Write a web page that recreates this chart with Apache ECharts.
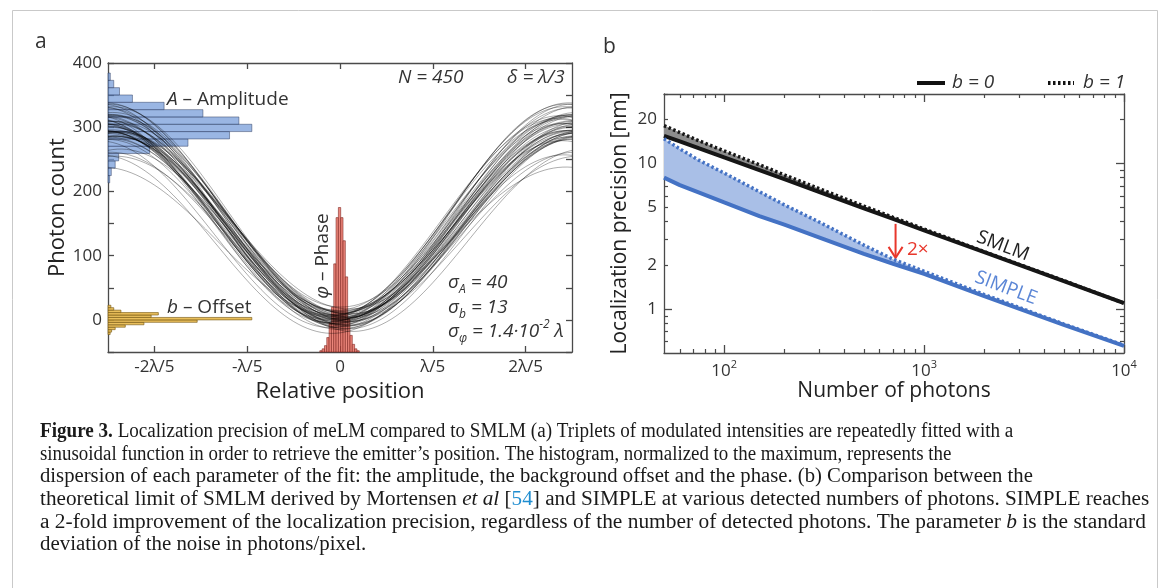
<!DOCTYPE html>
<html>
<head>
<meta charset="utf-8">
<title>Figure 3</title>
<script src="https://cdn.jsdelivr.net/npm/echarts@6.0.0/dist/echarts.min.js"></script>
<style>
  html, body { margin: 0; padding: 0; background: #fff; }
  #chart { width: 1170px; height: 588px; }
</style>
</head>
<body>
<div id="chart"></div>
<script>
// ---- panel a: fitted sinusoids (one entry per fit, phase in units of lambda)
const fitAmplitude = [298, 312, 285, 305, 327, 291, 276, 318, 302, 289,
  334, 309, 296, 281, 322, 300, 314, 287, 268, 306,
  293, 341, 310, 284, 299, 325, 272, 303, 316, 290,
  258, 307, 295, 330, 283, 301, 319, 278, 297, 311,
  232, 304, 288, 323, 294, 313, 265, 308, 300, 336]
const fitOffset = [2, -6, 9, -3, 5, -12, 14, 0, -8, 4,
  -2, 11, -15, 6, -4, 1, -9, 8, 17, -1,
  3, -5, 10, -18, 7, -7, 13, -10, 2, 20,
  -3, 5, -13, 0, 9, -6, 4, -21, 12, -2,
  6, -11, 3, 15, -8, 1, -4, 8, -14, 0]
const fitPhase = [0.004, -0.012, 0.018, -0.003, 0.009, -0.021, 0.001, 0.013, -0.007, 0.024,
  -0.016, 0.006, -0.001, 0.011, -0.026, 0.003, 0.016, -0.009, 0.02, -0.005,
  0.008, -0.014, 0.0, 0.027, -0.019, 0.005, -0.002, 0.012, -0.011, 0.002,
  0.015, -0.023, 0.007, -0.004, 0.021, -0.008, 0.01, -0.017, 0.003, 0.019,
  -0.013, -0.001, 0.009, -0.006, 0.014, -0.029, 0.006, -0.01, 0.017, 0.001]

// histograms, normalized to their maximum
const ampBins = [219.1, 230.5, 241.9, 253.3, 264.7, 276.1, 287.5, 298.9, 310.3, 321.7, 333.1, 344.5, 355.9, 367.3, 378.7]
const ampCounts = [0.012, 0.023, 0.05, 0.074, 0.29, 0.556, 0.845, 1.0, 0.91, 0.66, 0.39, 0.17, 0.08, 0.04, 0.016]
const offBins = [-20.9, -17.1, -13.3, -9.5, -5.7, -1.9, 1.9, 5.7, 9.5, 13.3, 17.1, 20.9]
const offCounts = [0.015, 0.025, 0.05, 0.12, 0.25, 0.62, 1.0, 0.3, 0.35, 0.09, 0.04, 0.02]
const phaseBins = [-0.041, -0.036, -0.031, -0.026, -0.021, -0.016, -0.011, -0.006, -0.001,
  0.004, 0.009, 0.014, 0.019, 0.024, 0.029, 0.034, 0.039]
const phaseCounts = [0.009, 0.022, 0.044, 0.1, 0.2, 0.31, 0.61, 0.93, 1.0,
  0.93, 0.77, 0.52, 0.23, 0.115, 0.053, 0.022, 0.009]

const xTickValues = [-0.4, -0.2, 0, 0.2, 0.4]
const xTickLabels = ['-2λ/5', '-λ/5', '0', 'λ/5', '2λ/5']

// ---- panel b: localization precision [nm] vs number of photons
const photons = [50, 60, 75, 100, 150, 200, 300, 500, 700, 1000, 2000, 5000, 10000]
const smlmB0 = [15.5, 14.2, 12.7, 11.0, 9.0, 7.8, 6.35, 4.92, 4.16, 3.48, 2.46, 1.56, 1.1]
const smlmB1 = [18.2, 16.3, 14.3, 12.2, 9.8, 8.35, 6.7, 5.1, 4.27, 3.55, 2.48, 1.57, 1.1]
const simpleB0 = [8.0, 7.1, 6.3, 5.4, 4.35, 3.8, 3.1, 2.4, 2.05, 1.75, 1.23, 0.78, 0.56]
const simpleB1 = [14.8, 12.6, 10.5, 8.6, 6.4, 5.2, 3.95, 2.75, 2.2, 1.82, 1.26, 0.79, 0.565]
const arrow2x = [720, 3.85, 2.25] // photons, from, to

const photonLabels = [100, 1000, 10000]
const photonMinor = [60, 70, 80, 90, 200, 300, 400, 500, 600, 700, 800, 900,
  2000, 3000, 4000, 5000, 6000, 7000, 8000, 9000]
const precisionLabels = [1, 2, 5, 10, 20]
const precisionMajor = [1, 10]
const precisionMinor = [0.6, 0.7, 0.8, 0.9, 2, 3, 4, 5, 6, 7, 8, 9, 20, 30]

const FONT = 'Open Sans'
const AXIS = '#4a4a4a'
const TXT = '#333'
const histLen = 0.31   // longest histogram bar, in lambda
const phaseTall = 225  // tallest phase bar, in counts
const lg = Math.log10

const chart = echarts.init(document.getElementById('chart'))

// sinusoid samples for every fit
const xs = []
for (let i = 0; i <= 100; i++) xs.push(-0.5 + i / 100)
const curveSeries = fitAmplitude.map((A, k) => ({
  type: 'line', xAxisIndex: 0, yAxisIndex: 0, silent: true, symbol: 'none',
  lineStyle: { color: 'rgba(0,0,0,0.32)', width: 1 },
  data: xs.map(x => [x, fitOffset[k] + A * Math.pow(Math.sin(Math.PI * (x - fitPhase[k])), 2)])
}))

function hHist(bins, counts, width, fill, edge) {
  return {
    type: 'custom', xAxisIndex: 0, yAxisIndex: 0, silent: true,
    data: bins.map((c, i) => [c, counts[i]]),
    renderItem(params, api) {
      const c = api.value(0), n = api.value(1)
      const p0 = api.coord([-0.5, c + width / 2])
      const p1 = api.coord([-0.5 + n * histLen, c - width / 2])
      return {
        type: 'rect',
        shape: { x: p0[0], y: p0[1], width: p1[0] - p0[0], height: p1[1] - p0[1] },
        style: { fill: fill, stroke: edge, lineWidth: 0.8 }
      }
    }
  }
}

const phaseHist = {
  type: 'custom', xAxisIndex: 0, yAxisIndex: 0, silent: true,
  data: phaseBins.map((c, i) => [c, phaseCounts[i]]),
  renderItem(params, api) {
    const c = api.value(0), n = api.value(1)
    const p0 = api.coord([c - 0.0025, -50 + n * phaseTall])
    const p1 = api.coord([c + 0.0025, -50])
    return {
      type: 'rect',
      shape: { x: p0[0], y: p0[1], width: p1[0] - p0[0], height: p1[1] - p0[1] },
      style: { fill: 'rgba(234,122,110,0.9)', stroke: 'rgba(120,30,25,0.7)', lineWidth: 0.8 }
    }
  }
}

function band(upper, lower, fill) {
  return {
    type: 'custom', xAxisIndex: 2, yAxisIndex: 2, silent: true,
    data: photons.map((n, i) => [lg(n), lg(upper[i]), lg(lower[i])]),
    renderItem(params, api) {
      if (params.dataIndexInside > 0) return null
      const n = params.dataInsideLength
      const pts = []
      for (let j = 0; j < n; j++) pts.push(api.coord([api.value(0, j), api.value(1, j)]))
      for (let j = n - 1; j >= 0; j--) pts.push(api.coord([api.value(0, j), api.value(2, j)]))
      return { type: 'polygon', shape: { points: pts }, style: { fill: fill } }
    }
  }
}

function precLine(values, color, dotted) {
  return {
    type: 'line', xAxisIndex: 2, yAxisIndex: 2, silent: true, symbol: 'none',
    lineStyle: { color: color, width: dotted ? 3.5 : 4, type: dotted ? [2.5, 2.5] : 'solid' },
    data: photons.map((n, i) => [lg(n), lg(values[i])])
  }
}

const arrowSeries = {
  type: 'custom', xAxisIndex: 2, yAxisIndex: 2, silent: true,
  data: [[lg(arrow2x[0]), lg(arrow2x[1]), lg(arrow2x[2])]],
  renderItem(params, api) {
    const top = api.coord([api.value(0), api.value(1)])
    const tip = api.coord([api.value(0), api.value(2)])
    const red = '#e8372c'
    return {
      type: 'group', children: [
        { type: 'line', shape: { x1: top[0], y1: top[1], x2: tip[0], y2: tip[1] - 1 }, style: { stroke: red, lineWidth: 2 } },
        { type: 'polyline', shape: { points: [[tip[0] - 7, tip[1] - 11], [tip[0], tip[1]], [tip[0] + 7, tip[1] - 11]] },
          style: { stroke: red, lineWidth: 2, fill: null } }
      ]
    }
  }
}

// ---- axes helpers
function frameAxis(extra) {
  return Object.assign({
    type: 'value',
    axisLine: { show: true, onZero: false, lineStyle: { color: AXIS, width: 1.3 } },
    axisTick: { show: true, inside: true, length: 6, lineStyle: { color: AXIS, width: 1.3 } },
    axisLabel: { show: false },
    splitLine: { show: false }
  }, extra)
}
const labelStyle = { color: TXT, fontFamily: FONT, fontSize: 17 }
const nameStyleA = { color: '#222', fontFamily: FONT, fontSize: 22 }
const nameStyleB = { color: '#222', fontFamily: FONT, fontSize: 21 }
const near = (list, v) => list.findIndex(t => Math.abs(t - v) < 1e-6)

const xMinB = lg(50), xMaxB = 4, yMinB = lg(0.5), yMaxB = lg(30)
const sup = { 2: '2', 3: '3', 4: '4' }

const xAxes = [
  frameAxis({ gridIndex: 0, position: 'bottom', min: -0.5, max: 0.5,
    axisTick: { show: true, inside: true, length: 6, customValues: xTickValues, lineStyle: { color: AXIS, width: 1.3 } },
    axisLabel: Object.assign({ show: true, margin: 7, customValues: xTickValues,
      formatter: v => xTickLabels[near(xTickValues, v)] || '' }, labelStyle),
    name: 'Relative position', nameLocation: 'middle', nameGap: 29, nameTextStyle: nameStyleA }),
  frameAxis({ gridIndex: 0, position: 'top', min: -0.5, max: 0.5,
    axisTick: { show: true, inside: true, length: 6, customValues: xTickValues, lineStyle: { color: AXIS, width: 1.3 } } }),
  frameAxis({ gridIndex: 1, position: 'bottom', min: xMinB, max: xMaxB,
    axisTick: { show: true, inside: true, length: 8, customValues: photonLabels.map(lg), lineStyle: { color: AXIS, width: 1.3 } },
    axisLabel: { show: true, margin: 6, customValues: photonLabels.map(lg),
      formatter: v => '{b|10}{s|' + sup[Math.round(v)] + '}',
      rich: {
        b: { color: TXT, fontFamily: FONT, fontSize: 17, lineHeight: 24 },
        s: { color: TXT, fontFamily: FONT, fontSize: 11, lineHeight: 11, verticalAlign: 'top' }
      } },
    name: 'Number of photons', nameLocation: 'middle', nameGap: 27, nameTextStyle: nameStyleB }),
  frameAxis({ gridIndex: 1, position: 'bottom', min: xMinB, max: xMaxB, axisLine: { show: false, onZero: false },
    axisTick: { show: true, inside: true, length: 4, customValues: photonMinor.map(lg), lineStyle: { color: AXIS, width: 1.2 } } }),
  frameAxis({ gridIndex: 1, position: 'top', min: xMinB, max: xMaxB,
    axisTick: { show: true, inside: true, length: 8, customValues: photonLabels.map(lg), lineStyle: { color: AXIS, width: 1.3 } } }),
  frameAxis({ gridIndex: 1, position: 'top', min: xMinB, max: xMaxB, axisLine: { show: false, onZero: false },
    axisTick: { show: true, inside: true, length: 4, customValues: photonMinor.map(lg), lineStyle: { color: AXIS, width: 1.2 } } })
]

const yAxes = [
  frameAxis({ gridIndex: 0, position: 'left', min: -50, max: 400, interval: 50,
    axisLabel: Object.assign({ show: true, margin: 6,
      formatter: v => (v >= 0 && v % 100 === 0) ? String(v) : '' }, labelStyle),
    name: 'Photon count', nameLocation: 'middle', nameGap: 38, nameTextStyle: nameStyleA }),
  frameAxis({ gridIndex: 0, position: 'right', min: -50, max: 400, interval: 50 }),
  frameAxis({ gridIndex: 1, position: 'left', min: yMinB, max: yMaxB,
    axisTick: { show: true, inside: true, length: 8, customValues: precisionMajor.map(lg), lineStyle: { color: AXIS, width: 1.3 } },
    axisLabel: Object.assign({ show: true, margin: 7, customValues: precisionLabels.map(lg),
      formatter: v => String(Math.round(Math.pow(10, v))) }, labelStyle),
    name: 'Localization precision [nm]', nameLocation: 'middle', nameGap: 33, nameTextStyle: nameStyleB }),
  frameAxis({ gridIndex: 1, position: 'left', min: yMinB, max: yMaxB, axisLine: { show: false, onZero: false },
    axisTick: { show: true, inside: true, length: 4, customValues: precisionMinor.map(lg), lineStyle: { color: AXIS, width: 1.2 } } }),
  frameAxis({ gridIndex: 1, position: 'right', min: yMinB, max: yMaxB,
    axisTick: { show: true, inside: true, length: 8, customValues: precisionMajor.map(lg), lineStyle: { color: AXIS, width: 1.3 } } }),
  frameAxis({ gridIndex: 1, position: 'right', min: yMinB, max: yMaxB, axisLine: { show: false, onZero: false },
    axisTick: { show: true, inside: true, length: 4, customValues: precisionMinor.map(lg), lineStyle: { color: AXIS, width: 1.2 } } })
]

// ---- text
function rich(size, extra) {
  const base = { fontFamily: FONT, fontSize: size, fill: TXT, lineHeight: 26, verticalAlign: 'middle' }
  return {
    n: Object.assign({}, base, extra),
    i: Object.assign({}, base, { fontStyle: 'italic' }, extra),
    sub: Object.assign({}, base, { fontSize: 12, fontStyle: 'italic', lineHeight: 12, verticalAlign: 'bottom' }, extra),
    sup: Object.assign({}, base, { fontSize: 12, fontStyle: 'italic', lineHeight: 12, verticalAlign: 'top' }, extra)
  }
}
function txt(x, y, text, opts) {
  opts = opts || {}
  const size = opts.size || 19
  return {
    type: 'text', x: x, y: y, rotation: opts.rot || 0, silent: true,
    style: {
      text: text, fontFamily: FONT, fontSize: size, fill: opts.color || TXT,
      align: opts.align || 'left', verticalAlign: 'middle',
      textAlign: opts.align || 'left', textVerticalAlign: 'middle',
      rich: rich(size, opts.color ? { fill: opts.color } : {})
    }
  }
}

const SERIF = 'Liberation Serif'
const CAP = 20
const capRich = {
  n: { fontFamily: SERIF, fontSize: CAP, fill: '#1a1a1a' },
  b: { fontFamily: SERIF, fontSize: CAP, fill: '#1a1a1a', fontWeight: 'bold' },
  i: { fontFamily: SERIF, fontSize: CAP, fill: '#1a1a1a', fontStyle: 'italic' },
  c: { fontFamily: SERIF, fontSize: CAP, fill: '#1f8dd0' }
}
const captionLines = [
  '{b|Figure 3.}{n| Localization precision of meLM compared to SMLM (a) Triplets of modulated intensities are repeatedly fitted with a}',
  '{n|sinusoidal function in order to retrieve the emitter’s position. The histogram, normalized to the maximum, represents the}',
  '{n|dispersion of each parameter of the fit: the amplitude, the background offset and the phase. (b) Comparison between the}',
  '{n|theoretical limit of SMLM derived by Mortensen }{i|et al}{n| [}{c|54}{n|] and SIMPLE at various detected numbers of photons. SIMPLE reaches}',
  '{n|a 2-fold improvement of the localization precision, regardless of the number of detected photons. The parameter }{i|b}{n| is the standard}',
  '{n|deviation of the noise in photons/pixel.}'
]
const captionStretch = [0.955, 0.945, 1.035, 1.06, 1.07, 1.045]
const captionEls = captionLines.map((t, k) => ({
  type: 'text', x: 40, y: 432 + k * 22.6, scaleX: captionStretch[k], silent: true,
  style: { text: t, rich: capRich, fontFamily: SERIF, fontSize: CAP, fill: '#1a1a1a',
    align: 'left', verticalAlign: 'middle', textAlign: 'left', textVerticalAlign: 'middle' }
}))

const graphics = [
  { type: 'rect', silent: true, shape: { x: 12.5, y: 10.5, width: 1145, height: 620 },
    style: { fill: null, stroke: '#c9c9c9', lineWidth: 1 } },
  txt(35, 42, '{n|a}', { size: 21 }),
  txt(603, 47, '{n|b}', { size: 21 }),
  // panel a annotations
  txt(167, 100, '{i|A}{n| – Amplitude}'),
  txt(167, 308, '{i|b}{n| – Offset}'),
  txt(323, 256, '{i|φ}{n| – Phase}', { rot: Math.PI / 2, align: 'center' }),
  txt(398, 78, '{i|N = 450}'),
  txt(507, 78, '{i|δ = λ/3}'),
  txt(448, 283, '{i|σ}{sub|A}{i| = 40}'),
  txt(448, 308, '{i|σ}{sub|b}{i| = 13}'),
  txt(448, 332, '{i|σ}{sub|φ}{i| = 1.4·10}{sup|-2}{i| λ}'),
  // panel b legend
  { type: 'line', silent: true, shape: { x1: 917, y1: 83, x2: 945, y2: 83 }, style: { stroke: '#111', lineWidth: 4 } },
  txt(952, 83, '{i|b = 0}'),
  { type: 'line', silent: true, shape: { x1: 1048, y1: 83, x2: 1074, y2: 83 }, style: { stroke: '#111', lineWidth: 4, lineDash: [2.5, 2.5] } },
  txt(1083, 83, '{i|b = 1}'),
  txt(1003, 246, '{n|SMLM}', { rot: -0.36, align: 'center', color: '#222' }),
  txt(1006, 288, '{n|SIMPLE}', { rot: -0.36, align: 'center', color: '#5b86d6' }),
  txt(907, 250, '{n|2×}', { color: '#e8372c' })
].concat(captionEls)

chart.setOption({
  animation: false,
  backgroundColor: '#fff',
  textStyle: { fontFamily: FONT },
  grid: [
    { left: 108, top: 63, width: 464, height: 289 },
    { left: 664, top: 94, width: 460, height: 259 }
  ],
  xAxis: xAxes,
  yAxis: yAxes,
  series: [
    hHist(ampBins, ampCounts, 11.4, 'rgba(120,158,218,0.75)', 'rgba(40,55,90,0.6)'),
    hHist(offBins, offCounts, 3.8, 'rgba(231,186,78,0.92)', 'rgba(120,90,20,0.8)'),
    phaseHist
  ].concat(curveSeries).concat([
    band(smlmB1, smlmB0, '#8c8c8c'),
    band(simpleB1, simpleB0, '#a9bfe7'),
    precLine(smlmB0, '#161616', false),
    precLine(smlmB1, '#161616', true),
    precLine(simpleB0, '#4472c4', false),
    precLine(simpleB1, '#4472c4', true),
    arrowSeries
  ]),
  graphic: graphics
})

window.addEventListener('resize', () => chart.resize())
</script>
</body>
</html>
